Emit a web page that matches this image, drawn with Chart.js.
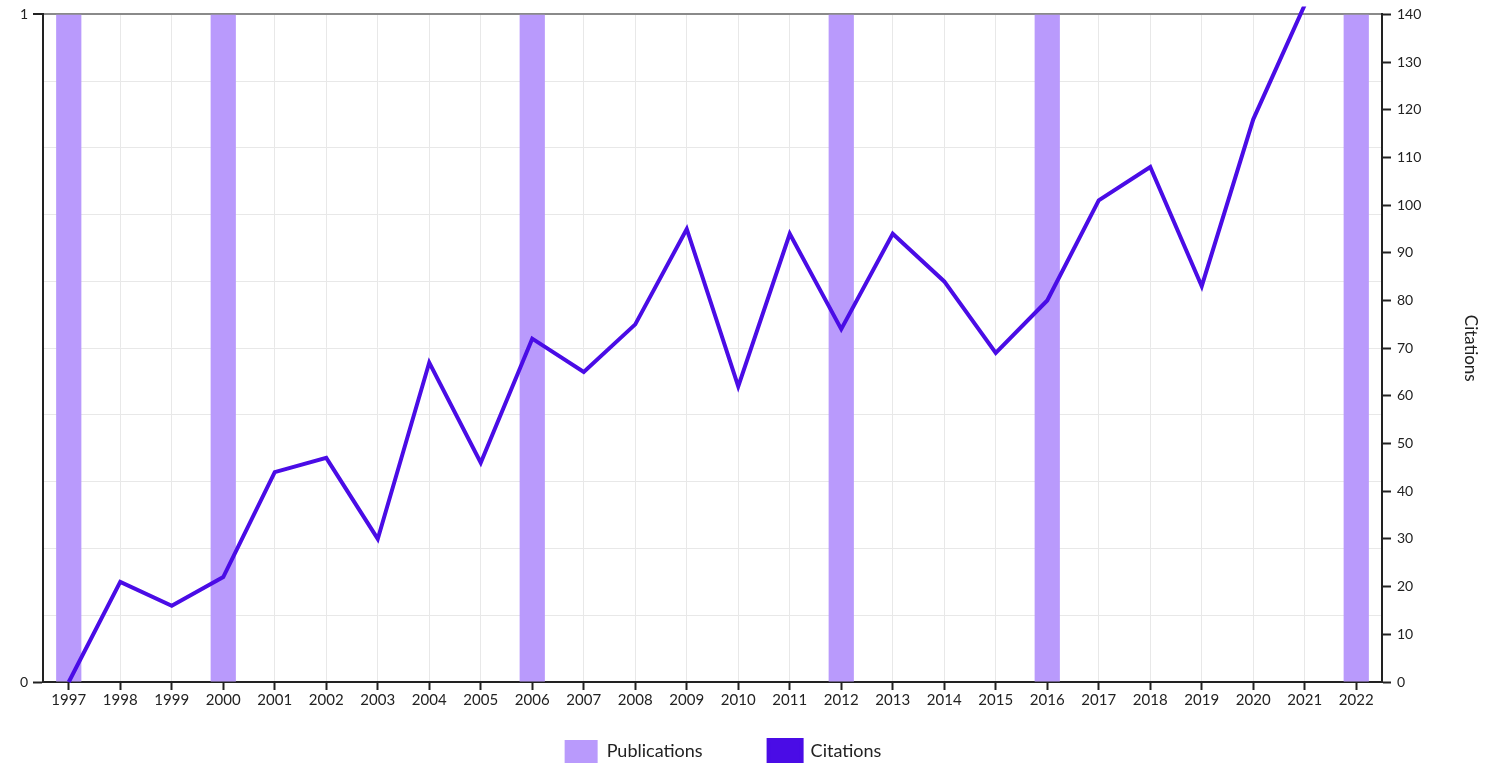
<!DOCTYPE html>
<html>
<head>
<meta charset="utf-8">
<script src="https://cdn.jsdelivr.net/npm/chart.js@4"></script>
<style>
    html, body { margin: 0; padding: 0; background: #fff; }
    #wrap { width: 1493px; height: 763px; position: relative; }
</style>
</head>
<body>
<div id="wrap"><canvas id="chart"></canvas></div>
<script>
const years = ['1997', '1998', '1999', '2000', '2001', '2002', '2003', '2004', '2005', '2006', '2007', '2008', '2009',
    '2010', '2011', '2012', '2013', '2014', '2015', '2016', '2017', '2018', '2019', '2020', '2021', '2022'];

const publications = [1, 0, 0, 1, 0, 0, 0, 0, 0, 1, 0, 0, 0, 0, 0, 1, 0, 0, 0, 1, 0, 0, 0, 0, 0, 1];

const citations = [0, 21, 16, 22, 44, 47, 30, 67, 46, 72, 65, 75, 95, 62, 94, 74, 94, 84, 69, 80, 101, 108, 83, 118, 142, null];

const barColor = '#b99afc';
const lineColor = '#4a0ce6';
const gridColor = '#e8e8e8';
const axisColor = '#222';

Chart.defaults.font.family = 'Lato, sans-serif';
Chart.defaults.color = axisColor;

// the legend keeps a small slot in the layout, but its row sits on the bottom edge
const legendToBottom = {
    id: 'legendToBottom',
    afterLayout(chart) {
        const legend = chart.legend;
        const labels = legend.options.labels;
        legend.top = chart.height - labels.boxHeight - labels.padding;
        legend.bottom = chart.height;
        legend.left = chart.chartArea.left;
        legend.right = chart.width - 90;
    },
};

new Chart(document.getElementById('chart'), {
    type: 'bar',
    data: {
        labels: years,
        datasets: [
            {
                type: 'line',
                label: 'Citations',
                data: citations,
                yAxisID: 'y1',
                borderColor: lineColor,
                backgroundColor: lineColor,
                borderWidth: 4,
                pointRadius: 0,
                tension: 0,
                clip: 8,
                order: 0,
            },
            {
                label: 'Publications',
                data: publications,
                yAxisID: 'y',
                backgroundColor: barColor,
                borderWidth: 0,
                categoryPercentage: 1,
                barPercentage: 0.49,
                order: 1,
            },
        ],
    },
    plugins: [legendToBottom],
    options: {
        responsive: true,
        maintainAspectRatio: false,
        animation: false,
        layout: {
            padding: { top: 6, right: 0, left: 0, bottom: 0 },
        },
        plugins: {
            legend: {
                position: 'bottom',
                fullSize: false,
                reverse: true,
                maxHeight: 51,
                labels: {
                    boxWidth: 33,
                    boxHeight: 23,
                    padding: 66,
                    font: { size: 18 },
                    color: axisColor,
                },
            },
            tooltip: { enabled: false },
        },
        scales: {
            x: {
                offset: true,
                afterFit: (scale) => { scale.height = 30; },
                grid: {
                    color: gridColor,
                    offset: false,
                    tickColor: axisColor,
                    tickLength: 8,
                    tickWidth: 2,
                },
                border: { color: axisColor, width: 2 },
                ticks: {
                    font: { size: 15 },
                    color: axisColor,
                    maxRotation: 0,
                    autoSkip: false,
                    padding: 1,
                },
            },
            y: {
                position: 'left',
                min: 0,
                max: 1,
                afterFit: (scale) => { scale.width = 43; },
                ticks: {
                    stepSize: 0.1,
                    font: { size: 14 },
                    color: axisColor,
                    padding: 5,
                    callback: (value) => (value === 0 || value === 1 ? String(value) : ''),
                },
                grid: {
                    color: (ctx) => (ctx.tick && ctx.tick.value === 1 ? '#8a8a8a' : gridColor),
                    lineWidth: (ctx) => (ctx.tick && ctx.tick.value === 1 ? 2 : 1),
                    tickColor: (ctx) => (ctx.tick && (ctx.tick.value === 0 || ctx.tick.value === 1) ? axisColor : 'transparent'),
                    tickLength: 10,
                    tickWidth: 2,
                },
                border: { color: axisColor, width: 2 },
            },
            y1: {
                position: 'right',
                min: 0,
                max: 140,
                afterFit: (scale) => { scale.width = 111; },
                ticks: {
                    stepSize: 10,
                    font: { size: 14 },
                    color: axisColor,
                    padding: 6,
                },
                grid: {
                    drawOnChartArea: false,
                    tickColor: axisColor,
                    tickLength: 9,
                    tickWidth: 2,
                },
                border: { color: axisColor, width: 2 },
                title: {
                    display: true,
                    text: 'Citations',
                    font: { size: 17 },
                    color: axisColor,
                    padding: { top: 12, bottom: 0 },
                },
            },
        },
    },
});
</script>
</body>
</html>
